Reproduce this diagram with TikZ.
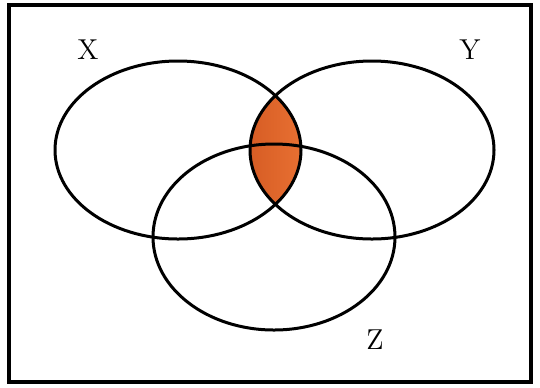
\documentclass[tikz,border=0pt]{standalone}
\usepackage{tikz}
\definecolor{lensorange}{RGB}{232,112,50}
\definecolor{lensdark}{RGB}{214,92,36}
\begin{document}
\begin{tikzpicture}[x=0.5pt,y=-0.5pt,
  set/.style={draw=black, line width=1.5pt},
  setlbl/.style={font=\Large, inner sep=0pt}
]
\useasboundingbox (0,0) rectangle (540,387);
\draw[line width=1.6pt] (9,5) rectangle (531,382);
% shaded part: X and Y
\begin{scope}
  \clip (178,150) ellipse [x radius=123, y radius=89];
  \clip (372,150) ellipse [x radius=122, y radius=89];
  \shade[left color=lensdark, right color=lensorange] (248,60) rectangle (302,210);
\end{scope}
\draw[set] (178,150) ellipse [x radius=123, y radius=89];
\draw[set] (372,150) ellipse [x radius=122, y radius=89];
\draw[set] (274,237) ellipse [x radius=121, y radius=93];
\node[setlbl] (lx) at (88,50)  {X};
\node[setlbl] (ly) at (470,50) {Y};
\node[setlbl] (lz) at (375,340) {Z};
\end{tikzpicture}
\end{document}
